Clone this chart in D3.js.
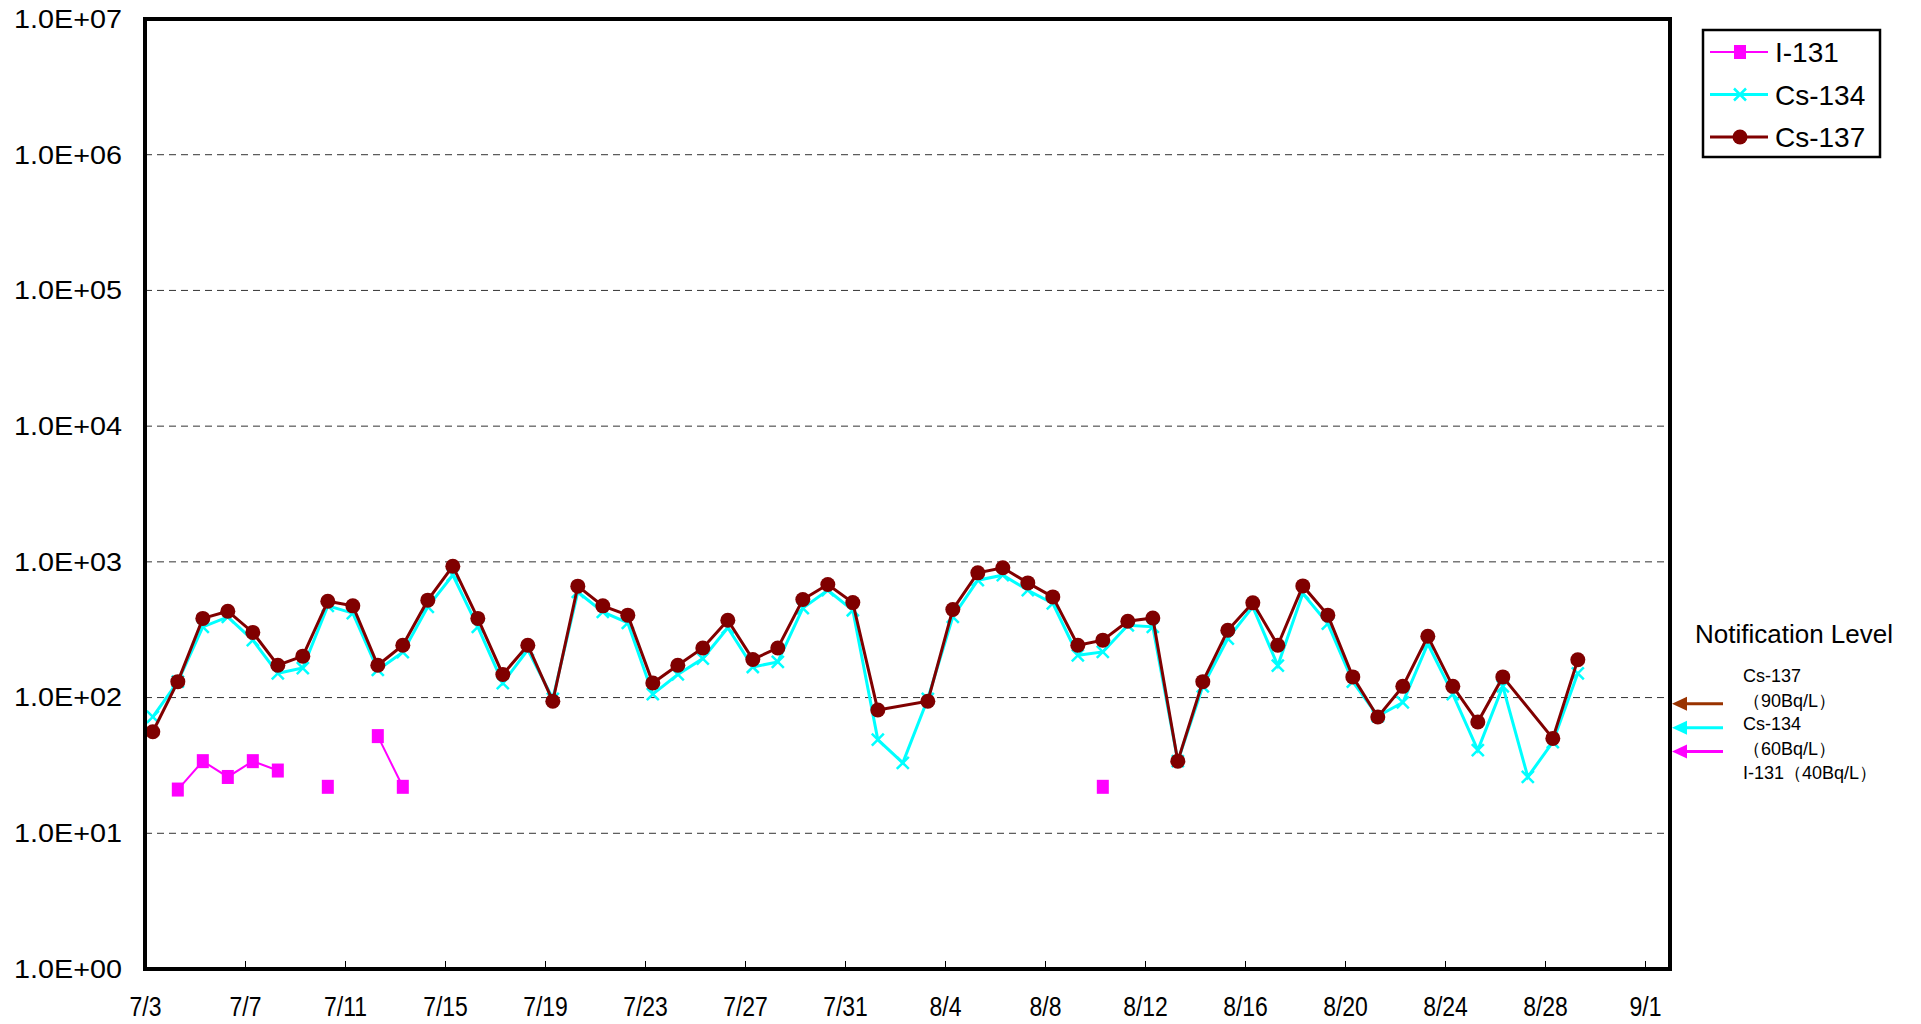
<!DOCTYPE html>
<html>
<head>
<meta charset="utf-8">
<script src="https://cdn.jsdelivr.net/npm/d3@7"></script>
<style>
body { margin: 0; background: #fff; }
svg { display: block; font-family: "Liberation Sans", Arial, sans-serif; }
</style>
</head>
<body>
<div class="visHolder"></div>
<script>
// sampling days (one sample per day, taken in the morning)
var dates = ["7/3", "7/4", "7/5", "7/6", "7/7", "7/8", "7/9", "7/10", "7/11", "7/12",
    "7/13", "7/14", "7/15", "7/16", "7/17", "7/18", "7/19", "7/20", "7/21", "7/22",
    "7/23", "7/24", "7/25", "7/26", "7/27", "7/28", "7/29", "7/30", "7/31", "8/1",
    "8/2", "8/3", "8/4", "8/5", "8/6", "8/7", "8/8", "8/9", "8/10", "8/11",
    "8/12", "8/13", "8/14", "8/15", "8/16", "8/17", "8/18", "8/19", "8/20", "8/21",
    "8/22", "8/23", "8/24", "8/25", "8/26", "8/27", "8/28", "8/29"];

var i131 = [null, 21, 34, 26, 34, 29, null, 22, null, 52,
    22, null, null, null, null, null, null, null, null, null,
    null, null, null, null, null, null, null, null, null, null,
    null, null, null, null, null, null, null, null, 22, null,
    null, null, null, null, null, null, null, null, null, null,
    null, null, null, null, null, null, null, null];

var cs134 = [72, 131, 332, 393, 265, 151, 165, 474, 419, 160,
    216, 466, 798, 332, 128, 225, 98, 600, 428, 355,
    106, 148, 194, 327, 168, 183, 456, 618, 440, 49,
    33, 98, 393, 733, 798, 618, 494, 205, 217, 341,
    332, 34, 121, 272, 466, 172, 585, 351, 131, 73,
    92, 249, 106, 41, 121, 26, 47, 151];

var cs137 = [56, 131, 383, 433, 302, 173, 202, 513, 474, 173,
    243, 522, 929, 383, 148, 243, 94, 662, 474, 405,
    128, 173, 232, 371, 191, 232, 528, 681, 501, 81,
    null, 94, 446, 830, 904, 700, 552, 243, 265, 365,
    386, 34, 131, 313, 499, 243, 665, 405, 142, 72,
    121, 283, 121, 66, 142, null, 50, 190];

var xTickLabels = ["7/3", "7/7", "7/11", "7/15", "7/19", "7/23", "7/27", "7/31",
    "8/4", "8/8", "8/12", "8/16", "8/20", "8/24", "8/28", "9/1"];
var yTicks = [1, 10, 100, 1e3, 1e4, 1e5, 1e6, 1e7];
var yTickLabels = ["1.0E+00", "1.0E+01", "1.0E+02", "1.0E+03", "1.0E+04", "1.0E+05", "1.0E+06", "1.0E+07"];

var seriesNames = ["I-131", "Cs-134", "Cs-137"];
var limitValues = [90, 60, 40];
var limitColors = ["#993300", "#00ffff", "#ff00ff"];
var limitText = ["Cs-137", "（90Bq/L）", "Cs-134", "（60Bq/L）", "I-131（40Bq/L）"];

var width = 1921,
    height = 1024,
    plotLeft = 145,
    plotRight = 1670,
    plotTop = 19,
    plotBottom = 969,
    year = 2011;

function toDate(s, hour, minute) {
    var p = s.split("/");
    return new Date(year, +p[0] - 1, +p[1], hour || 0, minute || 0);
}

var svg = d3
    .select(".visHolder")
    .append("svg")
    .attr("width", width)
    .attr("height", height);

var xScale = d3
    .scaleTime()
    .domain([toDate("7/3"), toDate("9/2")])
    .range([plotLeft, plotRight]);

var yScale = d3.scaleLog().domain([1, 1e7]).range([plotBottom, plotTop]);

svg.append("defs")
    .append("clipPath")
    .attr("id", "plot-clip")
    .append("rect")
    .attr("x", plotLeft)
    .attr("y", plotTop)
    .attr("width", plotRight - plotLeft)
    .attr("height", plotBottom - plotTop);

// dashed gridlines
svg.append("g")
    .selectAll("line")
    .data(yTicks.slice(1, -1))
    .enter()
    .append("line")
    .attr("x1", plotLeft)
    .attr("x2", plotRight)
    .attr("y1", function (d) { return yScale(d); })
    .attr("y2", function (d) { return yScale(d); })
    .attr("stroke", "#333")
    .attr("stroke-width", 1)
    .attr("stroke-dasharray", "7,5");

var yAxis = d3
    .axisLeft(yScale)
    .tickValues(yTicks)
    .tickFormat(function (d, i) { return yTickLabels[i]; })
    .tickSize(0)
    .tickPadding(23);

var gy = svg.append("g")
    .attr("transform", "translate(" + plotLeft + ",0)")
    .call(yAxis);
gy.select(".domain").remove();
gy.selectAll("text")
    .attr("font-size", 26)
    .attr("font-family", "Liberation Sans, Arial, sans-serif")
    .attr("fill", "#000")
    .attr("textLength", 108)
    .attr("lengthAdjust", "spacingAndGlyphs");

var xAxis = d3
    .axisBottom(xScale)
    .tickValues(xTickLabels.map(function (s) { return toDate(s); }))
    .tickFormat(function (d, i) { return xTickLabels[i]; })
    .tickSizeInner(-8)
    .tickSizeOuter(0)
    .tickPadding(27);

var gx = svg.append("g")
    .attr("transform", "translate(0," + plotBottom + ")")
    .call(xAxis);
gx.select(".domain").remove();
gx.selectAll("line").attr("stroke", "#000").attr("stroke-width", 1);
gx.selectAll("text")
    .attr("font-size", 28)
    .attr("font-family", "Liberation Sans, Arial, sans-serif")
    .attr("fill", "#000")
    .each(function () {
        var w = this.getComputedTextLength();
        d3.select(this).attr("textLength", w * 0.82).attr("lengthAdjust", "spacingAndGlyphs");
    });

// series
function points(values) {
    return values.map(function (v, i) {
        return { date: toDate(dates[i], 7, 30), v: v };
    });
}

var line = d3
    .line()
    .defined(function (d) { return d.v != null; })
    .x(function (d) { return xScale(d.date); })
    .y(function (d) { return yScale(d.v); });

var plot = svg.append("g").attr("clip-path", "url(#plot-clip)");

var iData = points(i131);
plot.append("path")
    .attr("d", line(iData))
    .attr("fill", "none")
    .attr("stroke", "#ff00ff")
    .attr("stroke-width", 2);
plot.selectAll(".i131")
    .data(iData.filter(function (d) { return d.v != null; }))
    .enter()
    .append("rect")
    .attr("class", "i131")
    .attr("x", function (d) { return xScale(d.date) - 6; })
    .attr("y", function (d) { return yScale(d.v) - 7; })
    .attr("width", 12)
    .attr("height", 14)
    .attr("fill", "#ff00ff");

var c4Data = points(cs134).filter(function (d) { return d.v != null; });
plot.append("path")
    .attr("d", line(c4Data))
    .attr("fill", "none")
    .attr("stroke", "#00ffff")
    .attr("stroke-width", 3);
plot.selectAll(".cs134")
    .data(c4Data)
    .enter()
    .append("path")
    .attr("class", "cs134")
    .attr("transform", function (d) {
        return "translate(" + xScale(d.date) + "," + yScale(d.v) + ")";
    })
    .attr("d", "M-6,-6L6,6M-6,6L6,-6")
    .attr("stroke", "#00ffff")
    .attr("stroke-width", 2.5);

var c7Data = points(cs137).filter(function (d) { return d.v != null; });
plot.append("path")
    .attr("d", line(c7Data))
    .attr("fill", "none")
    .attr("stroke", "#800000")
    .attr("stroke-width", 3);
plot.selectAll(".cs137")
    .data(c7Data)
    .enter()
    .append("circle")
    .attr("class", "cs137")
    .attr("cx", function (d) { return xScale(d.date); })
    .attr("cy", function (d) { return yScale(d.v); })
    .attr("r", 7.5)
    .attr("fill", "#800000");

// plot frame
svg.append("rect")
    .attr("x", plotLeft)
    .attr("y", plotTop)
    .attr("width", plotRight - plotLeft)
    .attr("height", plotBottom - plotTop)
    .attr("fill", "none")
    .attr("stroke", "#000")
    .attr("stroke-width", 4);

// legend
var legend = svg.append("g");
legend.append("rect")
    .attr("x", 1703)
    .attr("y", 30)
    .attr("width", 177)
    .attr("height", 127)
    .attr("fill", "#fff")
    .attr("stroke", "#000")
    .attr("stroke-width", 2.5);

var legendColors = ["#ff00ff", "#00ffff", "#800000"];
var legendRows = legend.selectAll(".row")
    .data(seriesNames)
    .enter()
    .append("g")
    .attr("class", "row")
    .attr("transform", function (d, i) { return "translate(0," + (52 + i * 42.5) + ")"; });

legendRows.append("line")
    .attr("x1", 1710)
    .attr("x2", 1768)
    .attr("stroke", function (d, i) { return legendColors[i]; })
    .attr("stroke-width", function (d, i) { return i == 0 ? 2 : 3; });

legendRows.each(function (d, i) {
    var g = d3.select(this);
    if (i == 0) {
        g.append("rect").attr("x", 1734).attr("y", -7).attr("width", 12).attr("height", 14).attr("fill", legendColors[i]);
    } else if (i == 1) {
        g.append("path").attr("d", "M1734,-6L1746,6M1734,6L1746,-6").attr("stroke", legendColors[i]).attr("stroke-width", 2.5);
    } else {
        g.append("circle").attr("cx", 1740).attr("r", 7.5).attr("fill", legendColors[i]);
    }
});

legendRows.append("text")
    .attr("x", 1775)
    .attr("y", 10)
    .attr("font-size", 28)
    .text(function (d) { return d; });

// notification levels
svg.append("text")
    .attr("x", 1695)
    .attr("y", 643)
    .attr("font-size", 26)
    .text("Notification Level");

svg.selectAll(".limit-text")
    .data(limitText)
    .enter()
    .append("text")
    .attr("class", "limit-text")
    .attr("x", 1743)
    .attr("y", function (d, i) { return [682, 707, 730, 755, 779][i]; })
    .attr("font-size", 18)
    .text(function (d) { return d; });

var arrows = svg.selectAll(".limit-arrow")
    .data(limitValues)
    .enter()
    .append("g")
    .attr("class", "limit-arrow")
    .attr("transform", function (d) { return "translate(0," + yScale(d) + ")"; });

arrows.append("line")
    .attr("x1", 1684)
    .attr("x2", 1723)
    .attr("stroke", function (d, i) { return limitColors[i]; })
    .attr("stroke-width", 3);

arrows.append("path")
    .attr("d", "M1672,0L1687,-7L1687,7Z")
    .attr("fill", function (d, i) { return limitColors[i]; });
</script>
</body>
</html>
